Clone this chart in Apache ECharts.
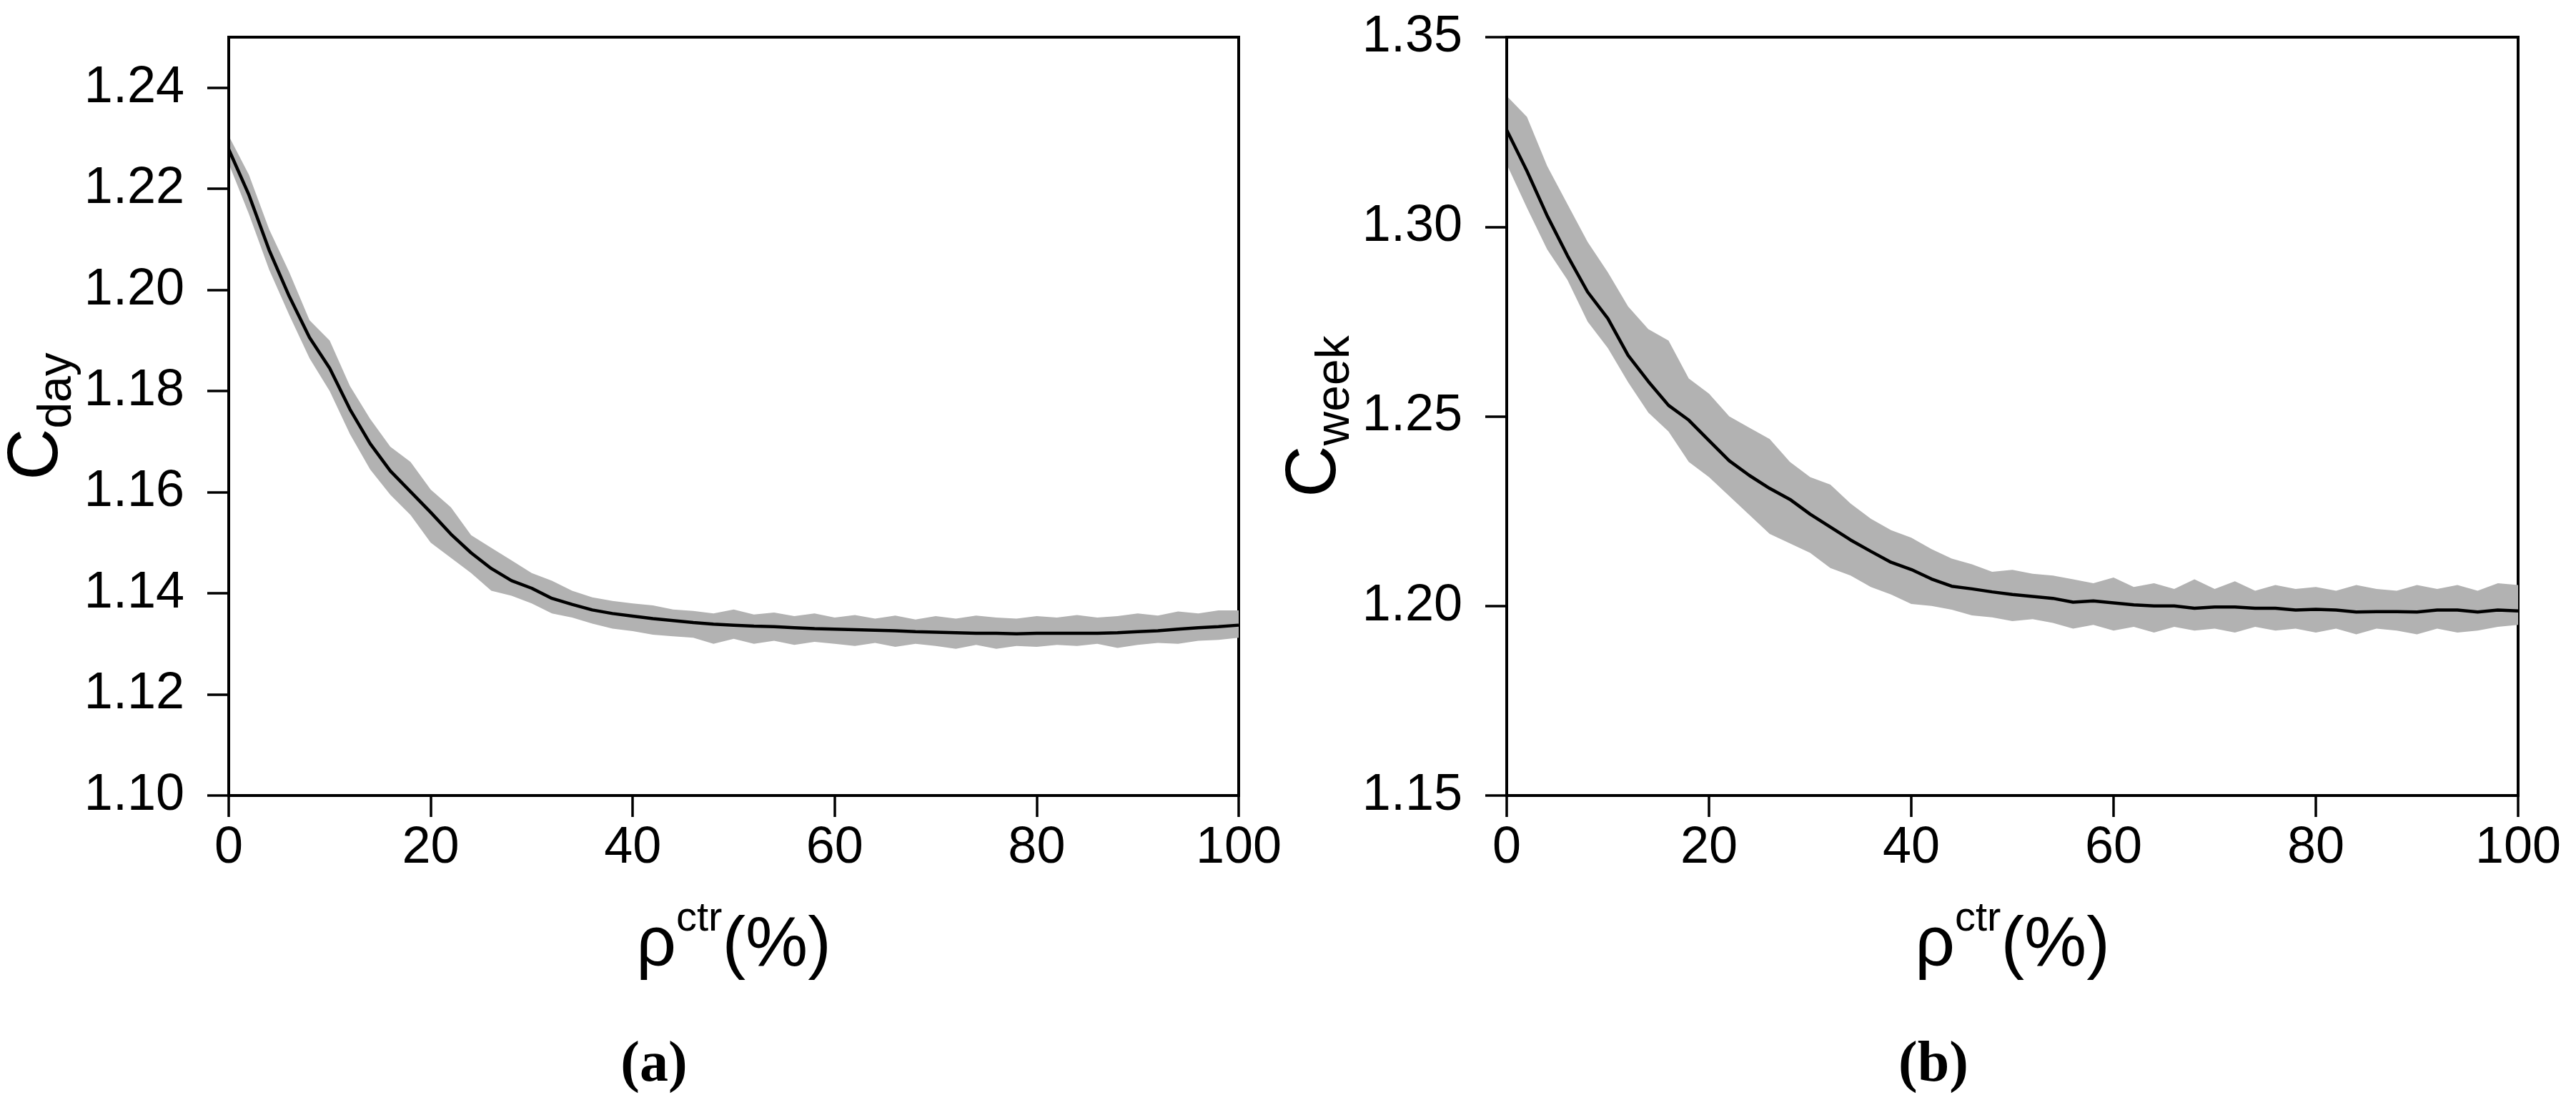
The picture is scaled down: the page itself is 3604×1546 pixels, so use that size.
<!DOCTYPE html>
<html>
<head>
<meta charset="utf-8">
<script src="https://cdn.jsdelivr.net/npm/echarts@6/dist/echarts.min.js"></script>
<style>
  html, body { margin: 0; padding: 0; background: #fff; }
  #chart { width: 3604px; height: 1546px; }
</style>
</head>
<body>
<div id="chart"></div>
<script>
// x positions (rho ctr, %)
var xs = [0, 2, 4, 6, 8, 10, 12, 14, 16, 18, 20, 22, 24, 26, 28, 30, 32, 34, 36, 38, 40,
  42, 44, 46, 48, 50, 52, 54, 56, 58, 60, 62, 64, 66, 68, 70, 72, 74, 76, 78, 80,
  82, 84, 86, 88, 90, 92, 94, 96, 98, 100];

// panel (a): C_day
var dayMean = [1.2278, 1.2188, 1.2079, 1.1987, 1.1906, 1.1845, 1.1764, 1.1696, 1.1642, 1.1601, 1.1560,
  1.1517, 1.1480, 1.1449, 1.1425, 1.1410, 1.1390, 1.1378, 1.1367, 1.1360, 1.1355,
  1.1350, 1.1346, 1.1342, 1.1339, 1.1337, 1.1335, 1.1334, 1.1332, 1.1330, 1.1329,
  1.1328, 1.1327, 1.1326, 1.1324, 1.1323, 1.1322, 1.1321, 1.1321, 1.1320, 1.1321,
  1.1321, 1.1321, 1.1321, 1.1322, 1.1324, 1.1326, 1.1329, 1.1332, 1.1334, 1.1337];
var dayUpper = [1.2305, 1.2228, 1.2120, 1.2035, 1.1940, 1.1900, 1.1810, 1.1745, 1.1690, 1.1660, 1.1605,
  1.1570, 1.1515, 1.1490, 1.1465, 1.1440, 1.1425, 1.1405, 1.1392, 1.1385, 1.1380,
  1.1376, 1.1368, 1.1365, 1.1360, 1.1368, 1.1358, 1.1362, 1.1355, 1.1360, 1.1352,
  1.1357, 1.1350, 1.1356, 1.1348, 1.1355, 1.1350, 1.1356, 1.1352, 1.1350, 1.1355,
  1.1352, 1.1357, 1.1352, 1.1355, 1.1360, 1.1356, 1.1364, 1.1360, 1.1366, 1.1366];
var dayLower = [1.2250, 1.2150, 1.2040, 1.1950, 1.1865, 1.1800, 1.1715, 1.1645, 1.1595, 1.1555, 1.1500,
  1.1470, 1.1440, 1.1405, 1.1395, 1.1380, 1.1360, 1.1352, 1.1340, 1.1330, 1.1325,
  1.1318, 1.1315, 1.1312, 1.1300, 1.1310, 1.1300, 1.1306, 1.1298, 1.1304, 1.1300,
  1.1296, 1.1302, 1.1294, 1.1300, 1.1296, 1.1290, 1.1298, 1.1290, 1.1296, 1.1294,
  1.1298, 1.1296, 1.1300, 1.1292, 1.1298, 1.1302, 1.1300, 1.1306, 1.1308, 1.1312];

// panel (b): C_week
var weekMean = [1.3255, 1.3147, 1.3029, 1.2924, 1.2828, 1.2758, 1.2661, 1.2592, 1.2529, 1.2490, 1.2436,
  1.2383, 1.2344, 1.2310, 1.2281, 1.2242, 1.2208, 1.2174, 1.2144, 1.2115, 1.2096,
  1.2071, 1.2052, 1.2045, 1.2037, 1.2030, 1.2025, 1.2020, 1.2010, 1.2013, 1.2008,
  1.2003, 1.2000, 1.2000, 1.1994, 1.1997, 1.1997, 1.1994, 1.1994, 1.1989, 1.1991,
  1.1989, 1.1984, 1.1985, 1.1985, 1.1984, 1.1989, 1.1989, 1.1984, 1.1989, 1.1987];
var weekUpper = [1.3345, 1.3290, 1.3160, 1.3060, 1.2960, 1.2880, 1.2790, 1.2730, 1.2700, 1.2600, 1.2560,
  1.2500, 1.2470, 1.2440, 1.2380, 1.2340, 1.2320, 1.2270, 1.2230, 1.2200, 1.2180,
  1.2150, 1.2125, 1.2110, 1.2090, 1.2095, 1.2085, 1.2080, 1.2070, 1.2060, 1.2075,
  1.2050, 1.2060, 1.2045, 1.2070, 1.2045, 1.2065, 1.2040, 1.2055, 1.2045, 1.2050,
  1.2040, 1.2055, 1.2045, 1.2040, 1.2055, 1.2045, 1.2055, 1.2040, 1.2060, 1.2055];
var weekLower = [1.3165, 1.3050, 1.2940, 1.2860, 1.2750, 1.2680, 1.2590, 1.2510, 1.2460, 1.2380, 1.2340,
  1.2290, 1.2240, 1.2190, 1.2165, 1.2140, 1.2100, 1.2080, 1.2050, 1.2030, 1.2005,
  1.2000, 1.1990, 1.1975, 1.1970, 1.1960, 1.1965, 1.1955, 1.1940, 1.1950, 1.1935,
  1.1945, 1.1930, 1.1945, 1.1935, 1.1940, 1.1930, 1.1945, 1.1935, 1.1940, 1.1930,
  1.1940, 1.1925, 1.1940, 1.1935, 1.1925, 1.1940, 1.1930, 1.1935, 1.1945, 1.1950];

var xTicks = [0, 20, 40, 60, 80, 100];
var dayTicks = [1.10, 1.12, 1.14, 1.16, 1.18, 1.20, 1.22, 1.24];
var weekTicks = [1.15, 1.20, 1.25, 1.30, 1.35];

var FONT = "Liberation Sans";
var BAND = "#b2b2b2";

function pairs(ys) {
  return xs.map(function(x, i) { return [x, ys[i]]; });
}

function makeX(gi) {
  return {
    type: "value", gridIndex: gi, min: 0, max: 100, interval: 20, z: 5,
    name: "{r|ρ}{s|ctr}{r|(%)}",
    nameLocation: "middle",
    nameGap: 162,
    nameTextStyle: {
      fontFamily: FONT, color: "#000",
      rich: {
        r: { fontFamily: FONT, fontSize: 98, lineHeight: 98, verticalAlign: "bottom", color: "#000" },
        s: { fontFamily: FONT, fontSize: 58, lineHeight: 58, verticalAlign: "bottom", padding: [0, 0, 58, 0], color: "#000" }
      }
    },
    axisLine: { show: true, onZero: false, lineStyle: { color: "#000", width: 4 } },
    axisTick: { show: true, inside: false, length: 30, customValues: xTicks, lineStyle: { color: "#000", width: 3.5 } },
    axisLabel: { fontFamily: FONT, fontSize: 72, color: "#000", margin: 38, customValues: xTicks },
    splitLine: { show: false }
  };
}

function makeY(gi, min, max, ticks, sub, gap) {
  return {
    type: "value", gridIndex: gi, min: min, max: max, z: 5,
    name: "{c|C}{s|" + sub + "}",
    nameLocation: "middle",
    nameRotate: 90,
    nameGap: gap,
    nameTextStyle: {
      fontFamily: FONT, color: "#000",
      rich: {
        c: { fontFamily: FONT, fontSize: 100, lineHeight: 100, verticalAlign: "bottom", padding: [0, 0, 12, 0], color: "#000" },
        s: { fontFamily: FONT, fontSize: 66, lineHeight: 66, verticalAlign: "bottom", color: "#000" }
      }
    },
    axisLine: { show: true, onZero: false, lineStyle: { color: "#000", width: 4 } },
    axisTick: { show: true, inside: false, length: 30, customValues: ticks, lineStyle: { color: "#000", width: 3.5 } },
    axisLabel: {
      fontFamily: FONT, fontSize: 72, color: "#000", margin: 62, customValues: ticks,
      formatter: function(v) { return v.toFixed(2); }
    },
    splitLine: { show: false }
  };
}

// grey band between lower and upper, drawn as one polygon through the axis scales
function bandSeries(gi, up, lo) {
  return {
    type: "custom", xAxisIndex: gi, yAxisIndex: gi, silent: true, clip: true,
    data: [[xs[0], lo[0]]],
    renderItem: function(params, api) {
      var pts = [];
      var i;
      for (i = 0; i < xs.length; i++) pts.push(api.coord([xs[i], up[i]]));
      for (i = xs.length - 1; i >= 0; i--) pts.push(api.coord([xs[i], lo[i]]));
      return { type: "polygon", shape: { points: pts }, style: { fill: BAND, stroke: null } };
    }
  };
}

function meanSeries(gi, mean) {
  return {
    type: "line", xAxisIndex: gi, yAxisIndex: gi,
    data: pairs(mean), symbol: "none", silent: true,
    lineStyle: { color: "#000", width: 4.5 }
  };
}

var chart = echarts.init(document.getElementById("chart"), null, { renderer: "canvas" });

var panelRich = {
  p: { fontFamily: "Liberation Serif", fontSize: 80, lineHeight: 80, color: "#000" },
  b: { fontFamily: "Liberation Serif", fontSize: 80, lineHeight: 80, fontWeight: "bold", color: "#000" }
};

var option = {
  backgroundColor: "#fff",
  animation: false,
  title: [
    { text: "{p|(}{b|a}{p|)}", left: 910, top: 1446, textAlign: "center", textStyle: { rich: panelRich } },
    { text: "{p|(}{b|b}{p|)}", left: 2700, top: 1446, textAlign: "center", textStyle: { rich: panelRich } }
  ],
  grid: [
    { left: 320, right: 1871, top: 52, bottom: 433, show: true, borderColor: "#000", borderWidth: 4 },
    { left: 2108, right: 81, top: 52, bottom: 433, show: true, borderColor: "#000", borderWidth: 4 }
  ],
  xAxis: [makeX(0), makeX(1)],
  yAxis: [
    makeY(0, 1.10, 1.25, dayTicks, "day", 190),
    makeY(1, 1.15, 1.35, weekTicks, "week", 174)
  ],
  series: [
    bandSeries(0, dayUpper, dayLower),
    meanSeries(0, dayMean),
    bandSeries(1, weekUpper, weekLower),
    meanSeries(1, weekMean)
  ]
};

chart.setOption(option);
</script>
</body>
</html>
